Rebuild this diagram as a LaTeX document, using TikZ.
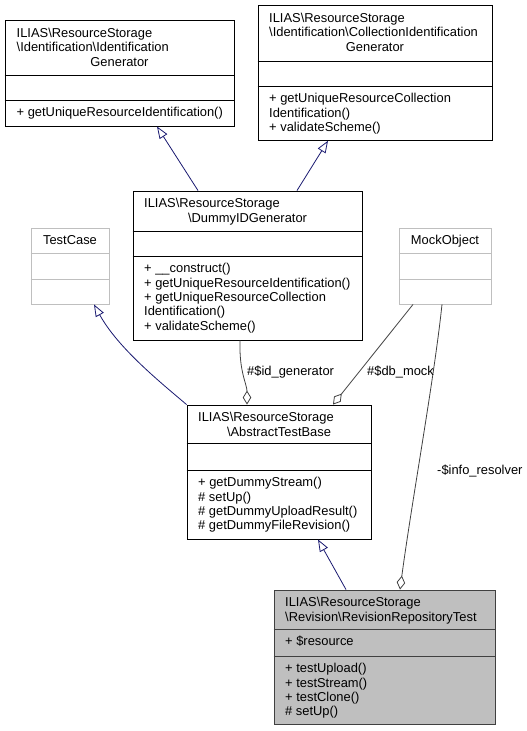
\documentclass[tikz,border=0pt]{standalone}
\usepackage{fontspec}
\setmainfont{Liberation Sans}
\usetikzlibrary{arrows.meta}
\definecolor{navyc}{HTML}{191970}
\definecolor{edgec}{HTML}{404040}
\definecolor{lgray}{HTML}{BFBFBF}
\begin{document}
\begin{tikzpicture}[x=1pt,y=-1pt,
  cls/.style={draw=black, line width=0.9pt, inner sep=0, fill=white},
  gcls/.style={draw=lgray, line width=0.9pt, inner sep=0, fill=white},
  fcls/.style={draw=edgec, line width=0.9pt, inner sep=0, fill=lgray},
  sep/.style={line width=0.9pt},
  txt/.style={inner sep=0, font=\fontsize{12.9}{14.3}\selectfont, anchor=base west},
  ctxt/.style={txt, anchor=base},
  inh/.style={draw=navyc, line width=0.8pt, -{Triangle[open, length=12pt, width=9pt]}},
  agg/.style={draw=edgec, line width=0.8pt, -{Diamond[open, length=14pt, width=8.5pt]}}
]
\useasboundingbox (0,0) rectangle (527,731);

% IdentificationGenerator
\node[cls, minimum width=229pt, minimum height=105.3pt] (ig) at (119.5,73.4) {};
\draw[sep] (ig.west |- 0,75.3) -- (ig.east |- 0,75.3);
\draw[sep] (ig.west |- 0,100) -- (ig.east |- 0,100);
\node[txt] (ig1) at (16.5,37.5) {ILIAS\textbackslash ResourceStorage};
\node[txt] (ig2) at (16.5,51.8) {\textbackslash Identification\textbackslash Identification};
\node[ctxt] (ig3) at (119.5,66.1) {Generator};
\node[txt] (ig4) at (16.5,116.8) {+ getUniqueResourceIdentification()};

% CollectionIdentificationGenerator
\node[cls, minimum width=234pt, minimum height=134.6pt] (cig) at (375,73) {};
\draw[sep] (cig.west |- 0,61) -- (cig.east |- 0,61);
\draw[sep] (cig.west |- 0,86) -- (cig.east |- 0,86);
\node[txt] (cig1) at (269,22.5) {ILIAS\textbackslash ResourceStorage};
\node[txt] (cig2) at (269,36.8) {\textbackslash Identification\textbackslash CollectionIdentification};
\node[ctxt] (cig3) at (375,51.1) {Generator};
\node[txt] (cig4) at (269,102.8) {+ getUniqueResourceCollection};
\node[txt] (cig5) at (269,117.1) {Identification()};
\node[txt] (cig6) at (269,131.4) {+ validateScheme()};

% DummyIDGenerator
\node[cls, minimum width=229pt, minimum height=149pt] (dg) at (247.5,265.5) {};
\draw[sep] (dg.west |- 0,231) -- (dg.east |- 0,231);
\draw[sep] (dg.west |- 0,256) -- (dg.east |- 0,256);
\node[txt] (dg1) at (144,207.8) {ILIAS\textbackslash ResourceStorage};
\node[ctxt] (dg2) at (247.5,222.1) {\textbackslash DummyIDGenerator};
\node[txt] (dg3) at (144,272.8) {+ \_\_construct()};
\node[txt] (dg4) at (144,287.1) {+ getUniqueResourceIdentification()};
\node[txt] (dg5) at (144,301.4) {+ getUniqueResourceCollection};
\node[txt] (dg6) at (144,315.7) {Identification()};
\node[txt] (dg7) at (144,330) {+ validateScheme()};

% TestCase
\node[gcls, minimum width=78pt, minimum height=76pt] (tc) at (70,266) {};
\draw[sep, lgray] (tc.west |- 0,253) -- (tc.east |- 0,253);
\draw[sep, lgray] (tc.west |- 0,279) -- (tc.east |- 0,279);
\node[ctxt] (tc1) at (70,244.8) {TestCase};

% MockObject
\node[gcls, minimum width=92pt, minimum height=76pt] (mo) at (445,266) {};
\draw[sep, lgray] (mo.west |- 0,253) -- (mo.east |- 0,253);
\draw[sep, lgray] (mo.west |- 0,279) -- (mo.east |- 0,279);
\node[ctxt] (mo1) at (445,244.8) {MockObject};

% AbstractTestBase
\node[cls, minimum width=184pt, minimum height=134pt] (atb) at (279,472) {};
\draw[sep] (atb.west |- 0,443) -- (atb.east |- 0,443);
\draw[sep] (atb.west |- 0,470) -- (atb.east |- 0,470);
\node[txt] (atb1) at (198,421.8) {ILIAS\textbackslash ResourceStorage};
\node[ctxt] (atb2) at (279,436.1) {\textbackslash AbstractTestBase};
\node[txt] (atb3) at (198,486.8) {+ getDummyStream()};
\node[txt] (atb4) at (198,501.1) {\# setUp()};
\node[txt] (atb5) at (198,515.4) {\# getDummyUploadResult()};
\node[txt] (atb6) at (198,529.7) {\# getDummyFileRevision()};

% RevisionRepositoryTest
\node[fcls, minimum width=221pt, minimum height=134pt] (rrt) at (384.5,657) {};
\draw[sep, edgec] (rrt.west |- 0,629) -- (rrt.east |- 0,629);
\draw[sep, edgec] (rrt.west |- 0,656) -- (rrt.east |- 0,656);
\node[txt] (rrt1) at (285,606.8) {ILIAS\textbackslash ResourceStorage};
\node[txt] (rrt2) at (285,621.1) {\textbackslash Revision\textbackslash RevisionRepositoryTest};
\node[txt] (rrt3) at (285,645.8) {+ \$resource};
\node[txt] (rrt4) at (285,672.8) {+ testUpload()};
\node[txt] (rrt5) at (285,687.1) {+ testStream()};
\node[txt] (rrt6) at (285,701.4) {+ testClone()};
\node[txt] (rrt7) at (285,715.7) {\# setUp()};

% inheritance
\draw[inh] ([xshift=-49.5pt]dg.north) -- ([xshift=37.5pt]ig.south);
\draw[inh] ([xshift=49.5pt]dg.north) -- ([xshift=-47pt]cig.south);
\draw[inh] (atb.north west) .. controls (160,382) and (118,348) .. ([xshift=24pt]tc.south);
\draw[inh] ([xshift=-38.5pt]rrt.north) -- ([xshift=39pt]atb.south);

% associations
\draw[agg] ([xshift=-7.5pt]dg.south) .. controls (239,372) and (247,384) .. ([xshift=-32pt]atb.north);
\draw[agg] ([xshift=-32pt]mo.south) -- ([xshift=54pt]atb.north);
\draw[agg] ([xshift=-3pt]mo.south) .. controls (434,380) and (412,500) .. ([xshift=15.5pt]rrt.north);

\node[txt] (l1) at (247,375.5) {\#\$id\_generator};
\node[txt] (l2) at (367,375.5) {\#\$db\_mock};
\node[txt] (l3) at (437,474) {-\$info\_resolver};
\end{tikzpicture}
\end{document}
